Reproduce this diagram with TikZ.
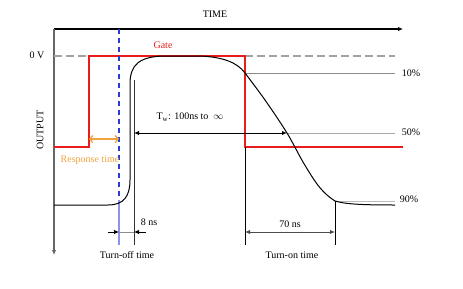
\documentclass[tikz,border=0pt]{standalone}
\usepackage{fontspec}
\setmainfont{Liberation Serif}
\usetikzlibrary{arrows.meta}
\definecolor{gatered}{HTML}{E81C1C}
\definecolor{resporange}{HTML}{F2A23C}
\definecolor{dashblue}{HTML}{2A3CD8}
\definecolor{refgray}{HTML}{8C8C8C}
\begin{document}
\begin{tikzpicture}[x=1pt,y=-1pt,font=\fontsize{10}{11}\selectfont,
  lbl/.style={inner sep=1pt},
  blackarrow/.style={-{Latex[length=5pt,width=4.5pt]},black},
  refline/.style={refgray,line width=1pt},
  gateline/.style={gatered,line width=1.15pt},
  curveline/.style={black,line width=1pt}]
\useasboundingbox (0,0) rectangle (463,289);
% coordinates
\coordinate (axTL) at (54,29);
\coordinate (axTR) at (403,29);
\coordinate (axB) at (54,255);
% axes
\draw[blackarrow,line width=1.1pt] (axTL) -- (axTR);
\draw[-{Latex[length=5pt,width=4.5pt]},black!60,line width=1.2pt] (axTL) -- (axB);
\node[lbl] (time) at (215,14) {TIME};
\node[lbl,rotate=90] (output) at (40,130) {OUTPUT};
\node[lbl] (zerov) at (37,55) {0 V};
% 0V dashed reference
\coordinate (zA) at (54,56);
\coordinate (zB) at (89,56);
\coordinate (zC) at (245,56);
\coordinate (zD) at (395,56);
\draw[refgray!80,dash pattern=on 8pt off 4pt,line width=1.2pt] (zA) -- (zB);
\draw[refgray!80,dash pattern=on 8pt off 4pt,line width=1.2pt] (zC) -- (zD);
% percentage lines
\coordinate (p10a) at (245,73);
\coordinate (p10b) at (395,73);
\coordinate (p50a) at (287,133);
\coordinate (p50b) at (395,133);
\coordinate (p90a) at (335,201);
\coordinate (p90b) at (395,201);
\draw[refline] (p10a) -- (p10b);
\draw[refline,refgray!75] (p50a) -- (p50b);
\draw[refline,refgray!60] (p90a) -- (p90b);
\node[lbl] (l10) at (411,73) {10\%};
\node[lbl] (l50) at (411,132) {50\%};
\node[lbl] (l90) at (409,199) {90\%};
% gate
\coordinate (g0) at (54,147);
\coordinate (g1) at (89,147);
\coordinate (g2) at (89,56);
\coordinate (g3) at (245,56);
\coordinate (g4) at (245,147);
\coordinate (g5) at (403,147);
\draw[gateline] (g0) -- (g1) -- (g2) -- (g3) -- (g4) -- (g5);
\node[lbl,text=gatered] (gate) at (163,45) {Gate};
% blue dashed line
\coordinate (bTop) at (119,29);
\coordinate (bMid) at (119,200);
\coordinate (bBot) at (119,245);
\draw[dashblue,dash pattern=on 5pt off 4pt,line width=1.15pt] (bTop) -- (bMid);
\draw[dashblue!55,line width=1.15pt] (bMid) -- (bBot);
% response time
\coordinate (rL) at (89,139);
\coordinate (rR) at (119,139);
\draw[resporange,line width=1.3pt,{Straight Barb[length=3pt,width=7pt]}-{Straight Barb[length=3pt,width=7pt]}] (rL) -- (rR);
\node[lbl,text=resporange] (resp) at (90,160) {Response time};
% marker line for turn-off
\coordinate (mTop) at (134,80);
\coordinate (mBot) at (134,245);
\draw[black!80,line width=0.8pt] (mTop) -- (mBot);
% output curve
\draw[curveline] (54,205) -- (108,205) .. controls (124,205) and (130,196) .. (130,180)
  -- (130,84) .. controls (130,64) and (140,57) .. (163,56)
  -- (200,56) .. controls (222,57) and (237,62) .. (245,73)
  plot[smooth,tension=0.55] coordinates {(245,73) (265,100) (287,133) (303,162) (317,184) (327,195) (335,201)}
  .. controls (345,204) and (360,205) .. (395,205);
% Tw arrow
\coordinate (tL) at (134,133);
\coordinate (tR) at (287,133);
\draw[black,line width=1pt,{Latex[length=5pt,width=4.5pt]}-{Latex[length=5pt,width=4.5pt]}] (tL) -- (tR);
\node[lbl] (tw) at (190,117) {T$_{\mathrm{w}}$: 100ns to \ $\infty$};
% 8 ns
\coordinate (eL) at (108,232);
\coordinate (eA) at (119,232);
\coordinate (eB) at (134,232);
\coordinate (eR) at (146,232);
\draw[blackarrow,line width=0.8pt] (eL) -- (eA);
\draw[blackarrow,line width=0.8pt] (eR) -- (eB);
\draw[refgray,line width=1pt] (eA) -- (eB);
\node[lbl] (eightns) at (149,222) {8 ns};
\node[lbl] (turnoff) at (127,255) {Turn-off time};
% turn-on
\coordinate (oTop) at (245,147);
\coordinate (oBot) at (245,245);
\coordinate (nTop) at (335,201);
\coordinate (nBot) at (335,245);
\draw[black,line width=1pt] (oTop) -- (oBot);
\draw[black,line width=1pt] (nTop) -- (nBot);
\coordinate (sL) at (245,232);
\coordinate (sR) at (335,232);
\draw[black!70,line width=1pt,{Latex[length=5pt,width=4.5pt]}-{Latex[length=5pt,width=4.5pt]}] (sL) -- (sR);
\node[lbl] (seventyns) at (290,224) {70 ns};
\node[lbl] (turnon) at (292,255) {Turn-on time};
\end{tikzpicture}
\end{document}
